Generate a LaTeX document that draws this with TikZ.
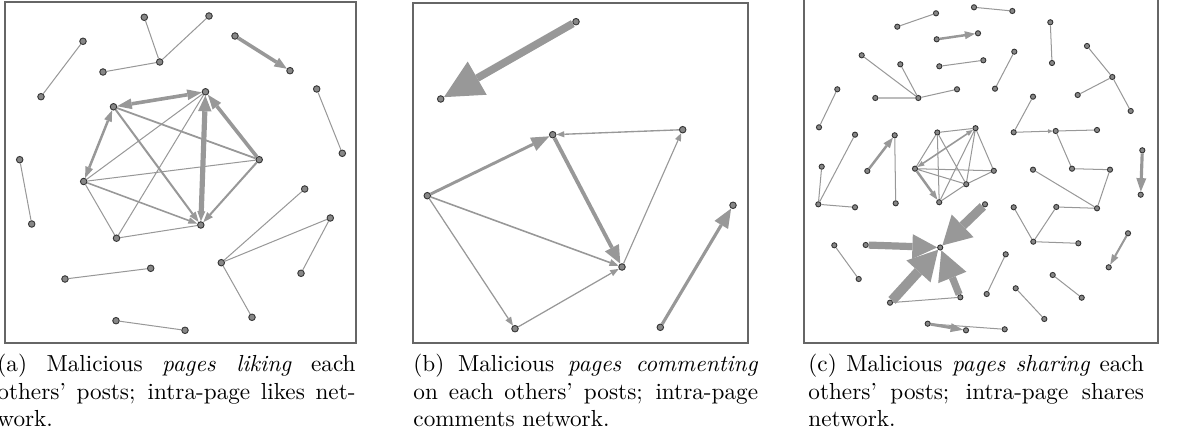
\documentclass[tikz,border=0pt]{standalone}
\usetikzlibrary{arrows.meta}
\definecolor{edgegray}{RGB}{152,152,152}
\definecolor{vtxgray}{RGB}{135,135,135}
\tikzset{
  vtx/.style={circle, draw=black!80, fill=vtxgray, line width=0.4pt, inner sep=0pt, minimum size=2.9pt},
  vtxs/.style={vtx, minimum size=2.3pt},
  edge/.style={draw=edgegray, line width=0.45pt},
  arr/.style n args={3}{draw=edgegray, line width=#1, -{Triangle[length=#2, width=#3, line width=0pt]}},
  barr/.style n args={3}{draw=edgegray, line width=#1, {Triangle[length=#2, width=#3, line width=0pt]}-{Triangle[length=#2, width=#3, line width=0pt]}},
  panelbox/.style={draw=black!60, line width=0.7pt},
  capt/.style={inner sep=0pt, anchor=base west, font=\fontsize{10.3pt}{12pt}\selectfont}
}

\begin{document}
\begin{tikzpicture}[x=0.444pt, y=-0.444pt]
\useasboundingbox (0,0) rectangle (1179,437);
% panel boxes
\draw[panelbox] (5,2) rectangle (356,343);
\draw[panelbox] (413,3) rectangle (748,343);
\draw[panelbox] (804,-1) rectangle (1158,343);

% (a) likes
\node[vtx] (L1) at (144.3,17.3) {};
\node[vtx] (L2) at (209,16) {};
\node[vtx] (L3) at (159.7,62) {};
\node[vtx] (L4) at (103,72) {};
\node[vtx] (L5) at (83,41.3) {};
\node[vtx] (L6) at (41,96.7) {};
\node[vtx] (L7) at (235,36) {};
\node[vtx] (L8) at (290,70.7) {};
\node[vtx] (L9) at (316.7,89) {};
\node[vtx] (L10) at (342.3,153.3) {};
\node[vtx] (L11) at (19.7,159.7) {};
\node[vtx] (L12) at (31.7,224) {};
\node[vtx] (L13) at (304.7,189) {};
\node[vtx] (L14) at (330.3,218) {};
\node[vtx] (L15) at (221.3,262.7) {};
\node[vtx] (L16) at (301,273.3) {};
\node[vtx] (L17) at (252,317.3) {};
\node[vtx] (L18) at (150.7,268.3) {};
\node[vtx] (L19) at (65,279) {};
\node[vtx] (L20) at (116,320.7) {};
\node[vtx] (L21) at (185,330.3) {};
\node[vtx] (Lc1) at (113.5,106.8) {};
\node[vtx] (Lc2) at (205.5,91.8) {};
\node[vtx] (Lc3) at (259.2,159.7) {};
\node[vtx] (Lc4) at (83.7,181.5) {};
\node[vtx] (Lc5) at (200.8,225) {};
\node[vtx] (Lc6) at (116.5,238.2) {};

\draw[edge] (L1) -- (L3) (L3) -- (L2) (L3) -- (L4) (L5) -- (L6) (L9) -- (L10) (L11) -- (L12);
\draw[edge] (L13) -- (L15) (L14) -- (L15) (L14) -- (L16) (L15) -- (L17) (L18) -- (L19) (L20) -- (L21);
\draw[edge] (Lc4) -- (Lc2) (Lc4) -- (Lc3) (Lc6) -- (Lc2) (Lc6) -- (Lc4) (Lc6) -- (Lc5);
\draw[edge, line width=0.8pt] (Lc1) -- (Lc3);
\draw[arr={1.6pt}{5.5pt}{4.5pt}] (L7) -- (L8);
\draw[barr={1.6pt}{6.5pt}{4.8pt}] (Lc1) -- (Lc2);
\draw[barr={1.1pt}{5pt}{3.6pt}] (Lc1) -- (Lc4);
\draw[draw=edgegray, line width=2.3pt, {Triangle[length=4.5pt, width=3.6pt, line width=0pt]}-{Triangle[length=7pt, width=6pt, line width=0pt]}] (Lc5) -- (Lc2);
\draw[arr={1.6pt}{6.5pt}{4.8pt}] (Lc3) -- (Lc2);
\draw[arr={0.9pt}{4.5pt}{3.4pt}] (Lc3) -- (Lc5);
\draw[arr={0.9pt}{4.5pt}{3.4pt}] (Lc1) -- (Lc5);
\draw[arr={0.7pt}{4pt}{3pt}] (Lc4) -- (Lc5);

% (b) comments
\node[vtx] (C1) at (576,21.7) {};
\node[vtx] (C2) at (440.7,99) {};
\node[vtx] (C3) at (552.7,134.7) {};
\node[vtx] (C4) at (682.7,129.7) {};
\node[vtx] (C5) at (427.3,195.7) {};
\node[vtx] (C6) at (622,267) {};
\node[vtx] (C7) at (515,328.7) {};
\node[vtx] (C8) at (733,205.3) {};
\node[vtx] (C9) at (660.3,327.3) {};

\draw[arr={3.4pt}{17pt}{17pt}] (C1) -- (C2);
\draw[arr={0.6pt}{3.5pt}{2.8pt}] (C4) -- (C3);
\draw[arr={1.3pt}{8pt}{6.5pt}] (C5) -- (C3);
\draw[arr={1.7pt}{8pt}{7pt}] (C3) -- (C6);
\draw[arr={0.7pt}{4pt}{3.2pt}] (C5) -- (C6);
\draw[arr={0.5pt}{3.5pt}{2.8pt}] (C6) -- (C4);
\draw[arr={0.55pt}{3.8pt}{3pt}] (C5) -- (C7);
\draw[arr={0.55pt}{3.8pt}{3pt}] (C7) -- (C6);
\draw[arr={1.4pt}{8.5pt}{7pt}] (C9) -- (C8);

% (c) shares
\node[vtxs] (S1) at (897.3,26.7) {};
\node[vtxs] (S2) at (936,13.3) {};
\node[vtxs] (S3) at (974,7.3) {};
\node[vtxs] (S4) at (1012.3,11) {};
\node[vtxs] (S5) at (936.7,39.3) {};
\node[vtxs] (S6) at (978,33.3) {};
\node[vtxs] (S7) at (939.3,66.3) {};
\node[vtxs] (S8) at (983.3,60.3) {};
\node[vtxs] (S9) at (1014.3,51.7) {};
\node[vtxs] (S10) at (995,88.7) {};
\node[vtxs] (S11) at (1050.3,22.3) {};
\node[vtxs] (S12) at (1052,63) {};
\node[vtxs] (S13) at (1087,46) {};
\node[vtxs] (S14) at (1112.3,77) {};
\node[vtxs] (S15) at (1077.7,95) {};
\node[vtxs] (S16) at (1130.7,111) {};
\node[vtxs] (S17) at (918.3,98) {};
\node[vtxs] (S18) at (861.7,55.3) {};
\node[vtxs] (S19) at (900.3,64.3) {};
\node[vtxs] (S20) at (875.3,98) {};
\node[vtxs] (S21) at (957,89.3) {};
\node[vtxs] (S22) at (837.3,89.3) {};
\node[vtxs] (S23) at (819,127.3) {};
\node[vtxs] (S24) at (855,134.7) {};
\node[vtxs] (S25) at (821.7,166.7) {};
\node[vtxs] (S26) at (818.3,204.3) {};
\node[vtxs] (S27) at (855,207.3) {};
\node[vtxs] (S28) at (867.3,171) {};
\node[vtxs] (S29) at (894.7,135.3) {};
\node[vtxs] (S30) at (895.7,203.3) {};
\node[vtxs] (S31) at (1033,96.7) {};
\node[vtxs] (S32) at (1013.7,132.3) {};
\node[vtxs] (S33) at (1055.7,131) {};
\node[vtxs] (S34) at (1097,130) {};
\node[vtxs] (S35) at (1072,168.7) {};
\node[vtxs] (S36) at (1110,169.7) {};
\node[vtxs] (S37) at (1033,169.7) {};
\node[vtxs] (S38) at (1142.3,150.3) {};
\node[vtxs] (S39) at (1140.7,194.7) {};
\node[vtxs] (S40) at (1097,208.3) {};
\node[vtxs] (S41) at (1013.7,207.3) {};
\node[vtxs] (S42) at (1056.3,207) {};
\node[vtxs] (S43) at (1033.3,241.7) {};
\node[vtxs] (S44) at (1078.3,243.3) {};
\node[vtxs] (S45) at (1128,233.3) {};
\node[vtxs] (S46) at (1108.7,267.3) {};
\node[vtxs] (S47) at (1005.7,254.3) {};
\node[vtxs] (S48) at (986.7,294) {};
\node[vtxs] (S49) at (1015.7,288.3) {};
\node[vtxs] (S50) at (1044.3,319) {};
\node[vtxs] (S51) at (1052.7,275) {};
\node[vtxs] (S52) at (1081.7,297.7) {};
\node[vtxs] (S53) at (927.7,323.7) {};
\node[vtxs] (S54) at (966,330.3) {};
\node[vtxs] (S55) at (1004.7,329.3) {};
\node[vtxs] (S56) at (834.3,245.3) {};
\node[vtxs] (S57) at (858.7,279) {};
\node[vtxs] (K1) at (937.3,132.5) {};
\node[vtxs] (K2) at (975.5,128.2) {};
\node[vtxs] (K3) at (915,168.7) {};
\node[vtxs] (K4) at (993.8,170.8) {};
\node[vtxs] (K5) at (966.2,184.2) {};
\node[vtxs] (K6) at (939.2,202.2) {};
\node[vtxs] (H) at (940.2,247.5) {};
\node[vtxs] (T1) at (865.7,245) {};
\node[vtxs] (T2) at (985,204.3) {};
\node[vtxs] (T3) at (890,302.7) {};
\node[vtxs] (T4) at (960.3,297.3) {};

\draw[edge] (S1) -- (S2) (S3) -- (S4) (S7) -- (S8) (S9) -- (S10) (S11) -- (S12);
\draw[edge] (S13) -- (S14) (S14) -- (S15) (S14) -- (S16);
\draw[edge] (S17) -- (S18) (S17) -- (S19) (S17) -- (S20) (S17) -- (S21) (S22) -- (S23);
\draw[edge] (S26) -- (S24) (S26) -- (S25) (S26) -- (S27) (S29) -- (S30);
\draw[edge] (S31) -- (S32) (S33) -- (S34) (S33) -- (S35) (S35) -- (S36) (S36) -- (S40) (S37) -- (S40);
\draw[edge] (S41) -- (S43) (S43) -- (S42) (S42) -- (S40) (S43) -- (S44);
\draw[edge] (S47) -- (S48) (S49) -- (S50) (S51) -- (S52) (S53) -- (S55) (S56) -- (S57) (T3) -- (T4);
\draw[edge] (K1) -- (K2) (K1) -- (K3) (K1) -- (K6) (K1) -- (K5) (K2) -- (K4) (K2) -- (K6) (K2) -- (K5);
\draw[edge] (K3) -- (K4) (K3) -- (K5) (K4) -- (K5) (K5) -- (K6);
\draw[barr={0.7pt}{3pt}{2.4pt}] (K3) -- (K2);
\draw[arr={1.1pt}{4pt}{3pt}] (K3) -- (K6);
\draw[arr={0.45pt}{2pt}{1.8pt}] (S32) -- (S33);
\draw[arr={1.1pt}{4.5pt}{3.6pt}] (S5) -- (S6);
\draw[arr={1.1pt}{4.5pt}{3.6pt}] (S28) -- (S29);
\draw[arr={1.4pt}{6pt}{4.5pt}] (S38) -- (S39);
\draw[arr={0.9pt}{4.5pt}{3.2pt}] (S45) -- (S46);
\draw[arr={1.3pt}{5.5pt}{4pt}] (S53) -- (S54);
\draw[arr={3.2pt}{11pt}{11pt}] (T1) -- (H);
\draw[arr={4pt}{12.5pt}{14pt}] (T2) -- (H);
\draw[arr={4.4pt}{13pt}{14.5pt}] (T3) -- (H);
\draw[arr={3.2pt}{13pt}{13.5pt}] (T4) -- (H);

% captions
\node[capt] (capa) at (-3,372) {\parbox[t]{159pt}{(a) Malicious \emph{pages liking} each\linebreak others' posts; intra-page likes net-\linebreak work.}};
\node[capt] (capb) at (413,372) {\parbox[t]{153pt}{(b) Malicious \emph{pages commenting}\linebreak on each others' posts; intra-page\linebreak comments network.}};
\node[capt] (capc) at (808,372) {\parbox[t]{149pt}{(c) Malicious \emph{pages sharing} each\linebreak others' posts; intra-page shares\linebreak network.}};
\end{tikzpicture}
\end{document}
